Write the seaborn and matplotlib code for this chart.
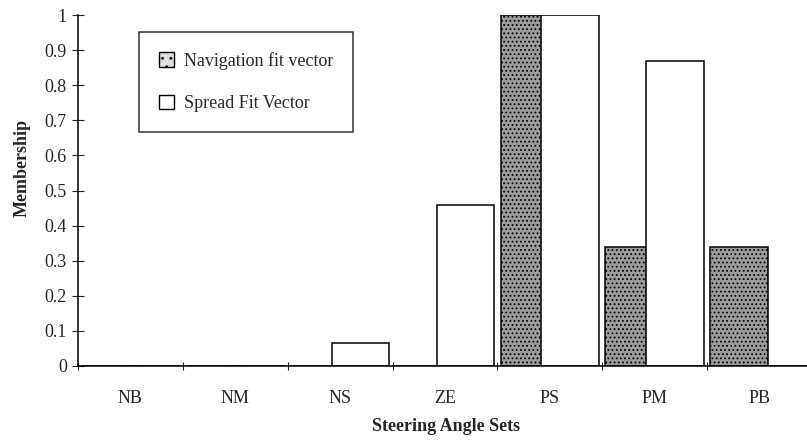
import matplotlib
matplotlib.use("Agg")
import matplotlib.pyplot as plt
from matplotlib.patches import Patch
import pandas as pd
import seaborn as sns

# Data
categories = ["NB", "NM", "NS", "ZE", "PS", "PM", "PB"]
navigation_fit = [0.0, 0.0, 0.0, 0.0, 1.0, 0.34, 0.34]
spread_fit = [0.0, 0.0, 0.065, 0.46, 1.0, 0.87, 0.0]
series_names = ["Navigation fit vector", "Spread Fit Vector"]

df = pd.DataFrame({
    "set": categories * 2,
    "value": navigation_fit + spread_fit,
    "series": [series_names[0]] * len(categories) + [series_names[1]] * len(categories),
})

sns.set_theme(style="ticks")
plt.rcParams["font.family"] = ["Liberation Serif", "DejaVu Serif"]
plt.rcParams["hatch.color"] = "#3a3a3a"
plt.rcParams["hatch.linewidth"] = 0.8

fig = plt.figure(figsize=(8.07, 4.43), dpi=100)
# axes run a little past the right edge, as in the scanned original
ax = fig.add_axes([78 / 807, 77 / 443, 734 / 807, 351 / 443])

sns.barplot(data=df, x="set", y="value", hue="series", order=categories,
            hue_order=series_names, palette=["#9c9c9c", "white"],
            width=0.78, gap=-0.41, edgecolor="black", linewidth=1.1,
            saturation=1, legend=False, ax=ax)

# stipple look for the navigation series
n = len(categories)
for bar in ax.patches[:n]:
    bar.set_hatch("....")

ax.set_xlim(-0.5, n - 0.5)
ax.set_ylim(0, 1)
ax.set_yticks([i / 10 for i in range(11)])
ax.set_yticklabels(["0"] + [f"0.{i}" for i in range(1, 10)] + ["1"])
ax.set_xticks([i - 0.5 for i in range(n + 1)], minor=True)
ax.set_xticks(range(n))
ax.set_xticklabels(categories)
ax.tick_params(axis="x", which="major", length=0, labelsize=13, pad=17)
ax.tick_params(axis="x", which="minor", direction="inout", length=6, width=0.8)
ax.tick_params(axis="y", direction="inout", length=8, width=0.8, labelsize=13, pad=4)

for side in ["top", "right"]:
    ax.spines[side].set_visible(False)
for side in ["left", "bottom"]:
    ax.spines[side].set_color("black")
    ax.spines[side].set_linewidth(1.1)

ax.set_xlabel("Steering Angle Sets", fontsize=13, fontweight="bold")
ax.set_ylabel("Membership", fontsize=13, fontweight="bold")
ax.xaxis.set_label_coords(368 / 734, -52 / 351)
ax.yaxis.set_label_coords(-47 / 734, 198 / 351)

handles = [
    Patch(facecolor="#e0e0e0", edgecolor="black", hatch="..", label=series_names[0]),
    Patch(facecolor="white", edgecolor="black", label=series_names[1]),
]
leg = ax.legend(handles=handles, loc="upper left", bbox_to_anchor=(61 / 734, 1 - 17 / 351),
                frameon=True, fancybox=False, edgecolor="black", fontsize=13,
                handlelength=0.85, handleheight=0.85, handletextpad=0.55,
                labelspacing=1.4, borderpad=1.1, borderaxespad=0)
leg.get_frame().set_linewidth(1.1)

fig.savefig("out.png", dpi=100)
